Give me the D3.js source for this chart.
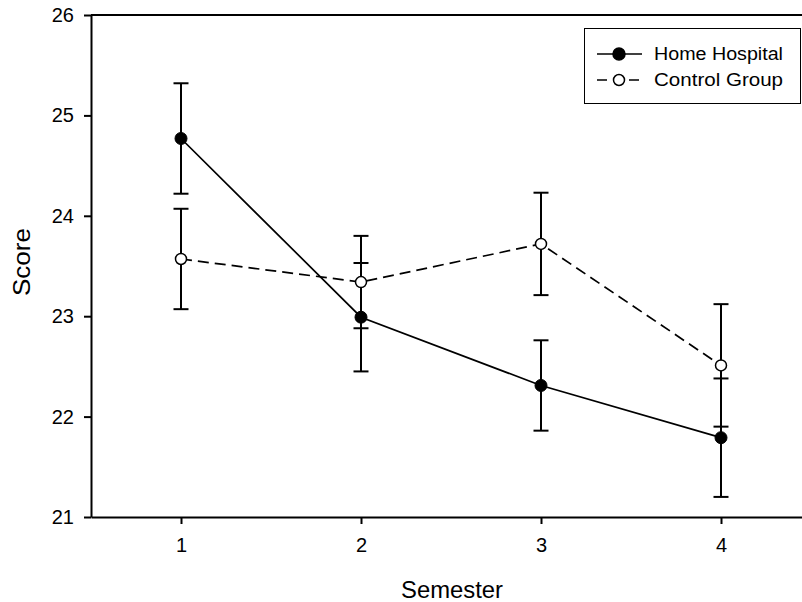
<!DOCTYPE html>
<html>
<head>
<meta charset="utf-8">
<script src="https://cdn.jsdelivr.net/npm/d3@7"></script>
<style>
body { margin: 0; background: #fff; }
svg { display: block; font-family: "Liberation Sans", Arial, sans-serif; }
</style>
</head>
<body>
<svg id="chart" width="802" height="602"></svg>
<script>
const semesters = [1, 2, 3, 4];
const xTicks = [1, 2, 3, 4];
const yTicks = [21, 22, 23, 24, 25, 26];
const homeMean = [24.77, 22.99, 22.31, 21.79];
const homeErr = [0.55, 0.54, 0.45, 0.59];
const controlMean = [23.57, 23.34, 23.72, 22.51];
const controlErr = [0.50, 0.46, 0.51, 0.61];
const seriesNames = ["Home Hospital", "Control Group"];

const svg = d3.select("#chart");
const x = d3.scaleLinear().domain([0.5, 4.5]).range([91, 811]);
const y = d3.scaleLinear().domain([21, 26]).range([517, 15]);

// top frame line
svg.append("line").attr("x1", x(0.5)).attr("x2", x(4.5)).attr("y1", y(26)).attr("y2", y(26))
  .attr("stroke", "#000").attr("stroke-width", 2);

const xAxis = svg.append("g").attr("transform", `translate(0,${y(21)})`)
  .call(d3.axisBottom(x).tickValues(xTicks).tickFormat(d3.format("d")).tickSizeInner(7).tickSizeOuter(0).tickPadding(14));
const yAxis = svg.append("g").attr("transform", `translate(${x(0.5)},0)`)
  .call(d3.axisLeft(y).tickValues(yTicks).tickFormat(d3.format("d")).tickSizeInner(7).tickSizeOuter(0).tickPadding(10));
[xAxis, yAxis].forEach(g => {
  g.select(".domain").attr("stroke", "#000").attr("stroke-width", 2);
  g.selectAll(".tick line").attr("stroke", "#000").attr("stroke-width", 2);
  g.selectAll(".tick text").attr("fill", "#000").attr("font-size", "20px")
    .attr("font-family", "Liberation Sans, Arial, sans-serif");
});

svg.append("text").attr("x", 452).attr("y", 598).attr("text-anchor", "middle")
  .attr("font-size", "23px").attr("fill", "#000")
  .attr("textLength", 102).attr("lengthAdjust", "spacingAndGlyphs").text("Semester");
svg.append("text").attr("transform", "translate(30,262) rotate(-90)").attr("text-anchor", "middle")
  .attr("font-size", "24px").attr("fill", "#000")
  .attr("textLength", 68).attr("lengthAdjust", "spacingAndGlyphs").text("Score");

const home = semesters.map((s, i) => ({s, m: homeMean[i], e: homeErr[i]}));
const ctrl = semesters.map((s, i) => ({s, m: controlMean[i], e: controlErr[i]}));

const line = d3.line().x(d => x(d.s)).y(d => y(d.m));
svg.append("path").datum(ctrl).attr("d", line).attr("fill", "none")
  .attr("stroke", "#000").attr("stroke-width", 1.7).attr("stroke-dasharray", "11,6");
svg.append("path").datum(home).attr("d", line).attr("fill", "none")
  .attr("stroke", "#000").attr("stroke-width", 1.7);

function errBars(data) {
  const g = svg.append("g").attr("stroke", "#000").attr("stroke-width", 2);
  data.forEach(d => {
    g.append("line").attr("x1", x(d.s)).attr("x2", x(d.s)).attr("y1", y(d.m + d.e)).attr("y2", y(d.m - d.e));
    g.append("line").attr("x1", x(d.s) - 7.5).attr("x2", x(d.s) + 7.5).attr("y1", y(d.m + d.e)).attr("y2", y(d.m + d.e));
    g.append("line").attr("x1", x(d.s) - 7.5).attr("x2", x(d.s) + 7.5).attr("y1", y(d.m - d.e)).attr("y2", y(d.m - d.e));
  });
}
errBars(ctrl);
errBars(home);

svg.append("g").selectAll("circle").data(ctrl).join("circle")
  .attr("cx", d => x(d.s)).attr("cy", d => y(d.m)).attr("r", 5.5)
  .attr("fill", "#fff").attr("stroke", "#000").attr("stroke-width", 1.5);
svg.append("g").selectAll("circle").data(home).join("circle")
  .attr("cx", d => x(d.s)).attr("cy", d => y(d.m)).attr("r", 6)
  .attr("fill", "#000").attr("stroke", "#000").attr("stroke-width", 1);

// legend
const lg = svg.append("g");
lg.append("rect").attr("x", 584.5).attr("y", 28.5).attr("width", 216).attr("height", 75)
  .attr("fill", "#fff").attr("stroke", "#000").attr("stroke-width", 1);
const legendRows = [
  {name: seriesNames[0], y: 54, dash: null, fill: "#000", r: 6},
  {name: seriesNames[1], y: 80, dash: "10,6", fill: "#fff", r: 5.5}
];
legendRows.forEach(r => {
  lg.append("line").attr("x1", 597).attr("x2", 642).attr("y1", r.y).attr("y2", r.y)
    .attr("stroke", "#000").attr("stroke-width", 1.7).attr("stroke-dasharray", r.dash);
  lg.append("circle").attr("cx", 619).attr("cy", r.y).attr("r", r.r)
    .attr("fill", r.fill).attr("stroke", "#000").attr("stroke-width", 1.5);
  lg.append("text").attr("x", 654).attr("y", r.y + 6).attr("font-size", "17.5px").attr("fill", "#000")
    .attr("textLength", 129).attr("lengthAdjust", "spacingAndGlyphs").text(r.name);
});
</script>
</body>
</html>
